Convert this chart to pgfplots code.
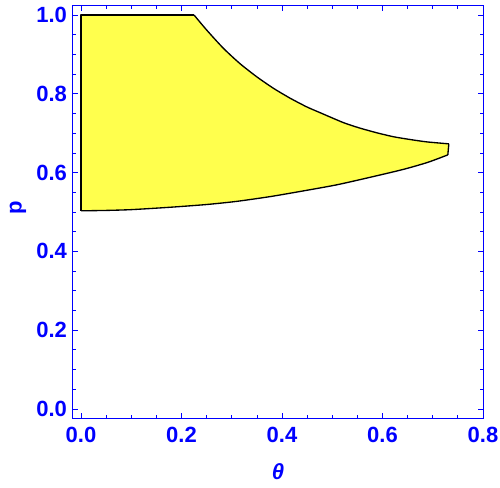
\documentclass[border=0pt]{standalone}
\usepackage{fontspec}
\setmainfont{Liberation Sans}
\usepackage{pgfplots}
\pgfplotsset{compat=1.18}

\definecolor{regionyellow}{RGB}{255,255,77}

% upper boundary, from the end of the flat top to the tip
\pgfplotstableread{
x y
0.225 1.000
0.250 0.962
0.283 0.916
0.316 0.877
0.350 0.843
0.383 0.814
0.416 0.789
0.449 0.767
0.476 0.752
0.522 0.727
0.555 0.713
0.589 0.701
0.622 0.691
0.655 0.684
0.688 0.678
0.732 0.673
}\uppercurve

% lower boundary, from the left edge to the tip
\pgfplotstableread{
x y
0.000 0.503
0.050 0.504
0.100 0.506
0.177 0.512
0.250 0.519
0.310 0.527
0.376 0.539
0.440 0.553
0.509 0.569
0.575 0.588
0.641 0.608
0.690 0.626
0.730 0.645
}\lowercurve

% whole region for the fill
\pgfplotstableread{
x y
0.000 0.503
0.000 1.000
0.225 1.000
0.250 0.962
0.283 0.916
0.316 0.877
0.350 0.843
0.383 0.814
0.416 0.789
0.449 0.767
0.476 0.752
0.522 0.727
0.555 0.713
0.589 0.701
0.622 0.691
0.655 0.684
0.688 0.678
0.732 0.673
0.730 0.645
0.690 0.626
0.641 0.608
0.575 0.588
0.509 0.569
0.440 0.553
0.376 0.539
0.310 0.527
0.250 0.519
0.177 0.512
0.100 0.506
0.050 0.504
0.000 0.503
}\region

\begin{document}
\begin{tikzpicture}
\begin{axis}[
    scale only axis,
    width=307.5pt, height=309pt,
    xmin=-0.016, xmax=0.8,
    ymin=-0.023, ymax=1.023,
    axis line style={blue, line width=0.75pt},
    xtick={0,0.2,0.4,0.6,0.8},
    ytick={0,0.2,0.4,0.6,0.8,1.0},
    minor xtick={0.05,0.1,...,0.75},
    minor ytick={0.05,0.1,...,0.95},
    tick style={blue, line width=0.6pt},
    major tick length=3.75pt,
    minor tick length=2.2pt,
    tick align=inside,
    /pgf/number format/fixed,
    /pgf/number format/fixed zerofill,
    /pgf/number format/precision=1,
    /pgf/number format/assume math mode=true,
    ticklabel style={font=\fontsize{16.5}{18}\selectfont\bfseries, text=blue},
    xticklabel style={yshift=-3pt},
    yticklabel style={xshift=-1pt},
    xlabel={\textbf{\textit{θ}}},
    ylabel={\textbf{p}},
    label style={font=\fontsize{16.5}{18}\selectfont, text=blue},
    xlabel style={at={(axis description cs:0.5,-0.130)}, anchor=center},
    ylabel style={at={(axis description cs:-0.134,0.51)}, anchor=center, rotate=0},
]
\addplot[fill=regionyellow, draw=none] table[x=x, y=y] {\region} -- cycle;
\addplot[black, line width=1pt, smooth, tension=0.4] table[x=x, y=y] {\uppercurve};
\addplot[black, line width=1pt, smooth, tension=0.4] table[x=x, y=y] {\lowercurve};
\addplot[black, line width=1pt, line join=round] coordinates {(0.225,1.000) (0,1.000) (0,0.503)};
\addplot[black, line width=1pt, line join=round] coordinates {(0.732,0.673) (0.730,0.645)};
\end{axis}
\pgfresetboundingbox
\path (current axis.south west) ++(-54.75pt,-51.75pt) coordinate (bl);
\path (current axis.north east) ++(12.75pt,4.5pt) coordinate (tr);
\path (bl) rectangle (tr);
\end{tikzpicture}
\end{document}
